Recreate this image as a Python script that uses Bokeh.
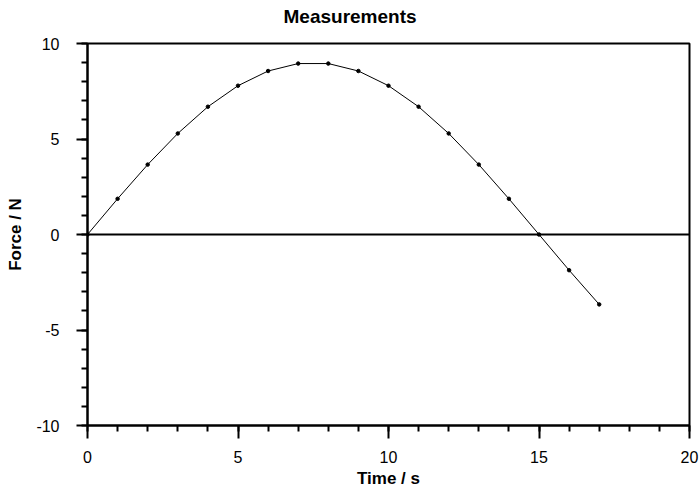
from bokeh.plotting import figure
from bokeh.models import (Range1d, SingleIntervalTicker, Span,
                          PrintfTickFormatter, Title)
from bokeh.embed import file_html
from bokeh.resources import INLINE

time_s = [0, 1, 2, 3, 4, 5, 6, 7, 8, 9, 10, 11, 12, 13, 14, 15, 16, 17]
force_n = [0.0, 1.87, 3.66, 5.29, 6.69, 7.79, 8.56, 8.95, 8.95, 8.56,
           7.79, 6.69, 5.29, 3.66, 1.87, 0.0, -1.87, -3.66]

title_text = "Measurements"
x_label = "Time / s"
y_label = "Force / N"

FONT = "Liberation Sans"

p = figure(width=699, height=491, output_backend="svg", toolbar_location=None,
           x_range=Range1d(0, 20), y_range=Range1d(-10, 10),
           title=title_text,
           min_border_left=87, min_border_right=10, min_border_top=41,
           min_border_bottom=66)

p.title.align = "left"
p.title.offset = 196
p.title.standoff = 6
p.title.text_font = FONT
p.title.text_font_size = "19px"
p.title.text_font_style = "bold"
p.title.text_color = "black"

# blank spacer panel between the title and the frame
p.add_layout(Title(text=" ", text_font=FONT, text_font_size="11px",
                   standoff=0, text_color="white"), "above")

p.xgrid.visible = False
p.ygrid.visible = False
p.outline_line_color = "black"
p.outline_line_width = 2

xa = p.below[0]
ya = p.left[0]
xa.ticker = SingleIntervalTicker(interval=5, num_minor_ticks=5)
ya.ticker = SingleIntervalTicker(interval=5, num_minor_ticks=5)

for ax in (xa, ya):
    ax.formatter = PrintfTickFormatter(format="%d")
    ax.axis_line_color = "black"
    ax.axis_line_width = 2
    ax.major_tick_line_color = "black"
    ax.minor_tick_line_color = "black"
    ax.major_tick_line_width = 2
    ax.minor_tick_line_width = 2
    ax.major_tick_in = 0
    ax.minor_tick_in = 0
    ax.major_label_text_font = FONT
    ax.major_label_text_font_size = "16px"
    ax.major_label_text_color = "black"
    ax.axis_label_text_font = FONT
    ax.axis_label_text_font_size = "17px"
    ax.axis_label_text_font_style = "bold"
    ax.axis_label_text_color = "black"

xa.major_tick_out = 13
xa.minor_tick_out = 6
ya.major_tick_out = 11
ya.minor_tick_out = 6
xa.major_label_standoff = 12
ya.major_label_standoff = 17
xa.axis_label = x_label
ya.axis_label = y_label
xa.axis_label_standoff = 3
ya.axis_label_standoff = 8

p.add_layout(Span(location=0, dimension="width", line_color="black", line_width=2))

p.line(time_s, force_n, line_color="black", line_width=1)
p.scatter(time_s, force_n, size=3.5, color="black")

open("out.html", "w").write(file_html(p, INLINE))
